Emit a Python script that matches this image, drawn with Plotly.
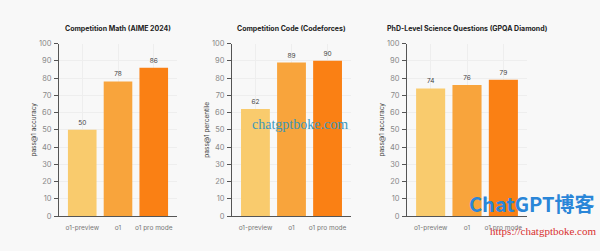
import plotly.graph_objects as go

models = ["o1-preview", "o1", "o1 pro mode"]
math_vals = [50, 78, 86]
code_vals = [62, 89, 90]
gpqa_vals = [74, 76, 79]
titles = ["Competition Math (AIME 2024)", "Competition Code (Codeforces)", "PhD-Level Science Questions (GPQA Diamond)"]
ytitles = ["pass@1 accuracy", "pass@1 percentile", "pass@1 accuracy"]
yticks = [0, 10, 20, 30, 40, 50, 60, 70, 80, 90, 100]
colors = ["#F9CB6D", "#F8A43C", "#FA8014"]

W, H = 600, 251
xdoms = [(59, 177), (232, 351), (407, 527)]
ytop, ybot = 41, 220
ydom = [1 - ybot / H, 1 - ytop / H]

fig = go.Figure()
for i, vals in enumerate([math_vals, code_vals, gpqa_vals]):
    xa = "x" if i == 0 else f"x{i+1}"
    ya = "y" if i == 0 else f"y{i+1}"
    fig.add_trace(go.Bar(
        x=models, y=vals, marker=dict(color=colors, line=dict(width=0)),
        text=[str(v) for v in vals], textposition="outside",
        textfont=dict(size=6.5, color="#444444", family="Inter"),
        cliponaxis=False, xaxis=xa, yaxis=ya, showlegend=False, hoverinfo="skip"))
    xk = "xaxis" if i == 0 else f"xaxis{i+1}"
    yk = "yaxis" if i == 0 else f"yaxis{i+1}"
    fig.layout[xk] = dict(
        domain=[xdoms[i][0] / W, xdoms[i][1] / W], anchor=ya,
        range=[-0.65, 2.65], showline=True, linecolor="#555555", linewidth=1,
        showgrid=True, gridcolor="#eeeeee", gridwidth=1, ticks="",
        ticklabelstandoff=5,
        tickfont=dict(size=6.5, color="#777777", family="Inter"), fixedrange=True)
    fig.layout[yk] = dict(
        domain=ydom, anchor=xa, range=[0, 100], tickvals=yticks,
        showline=True, linecolor="#555555", linewidth=1, ticks="outside",
        ticklen=4, tickcolor="#555555", showgrid=True, gridcolor="#eeeeee",
        gridwidth=1, zeroline=False, ticklabelstandoff=1,
        tickfont=dict(size=7.5, color="#888888", family="Inter"),
        title=dict(text=ytitles[i], font=dict(size=6.5, color="#444444", family="Inter"), standoff=1))
    fig.add_annotation(
        text="<b>" + titles[i] + "</b>", x=(xdoms[i][0] + xdoms[i][1]) / 2 / W,
        y=1 - 25 / H, xref="paper", yref="paper", showarrow=False,
        font=dict(size=7, color="#222222", family="Inter"), xanchor="center", yanchor="middle")

# watermarks
fig.add_annotation(text="chatgptboke.com", x=300 / W, y=1 - 125 / H, xref="paper", yref="paper",
                   showarrow=False, font=dict(size=14, color="#3b97b8", family="Liberation Serif"))
fig.add_annotation(text="<b>ChatGPT博客</b>", x=597 / W, y=1 - 224 / H, xref="paper", yref="paper",
                   xanchor="right", showarrow=False, font=dict(size=20, color="#2a86d8", family="Noto Sans CJK SC"))
fig.add_annotation(text="https://chatgptboke.com", x=598 / W, y=1 - 244 / H, xref="paper", yref="paper",
                   xanchor="right", showarrow=False, font=dict(size=11, color="#d83030", family="Liberation Serif"))

fig.update_layout(width=W, height=H, margin=dict(l=0, r=0, t=0, b=0),
                  paper_bgcolor="#f8f8f8", plot_bgcolor="#f8f8f8", bargap=0.2,
                  font=dict(family="Inter"))
fig.write_html("out.html", config={"displayModeBar": False})
